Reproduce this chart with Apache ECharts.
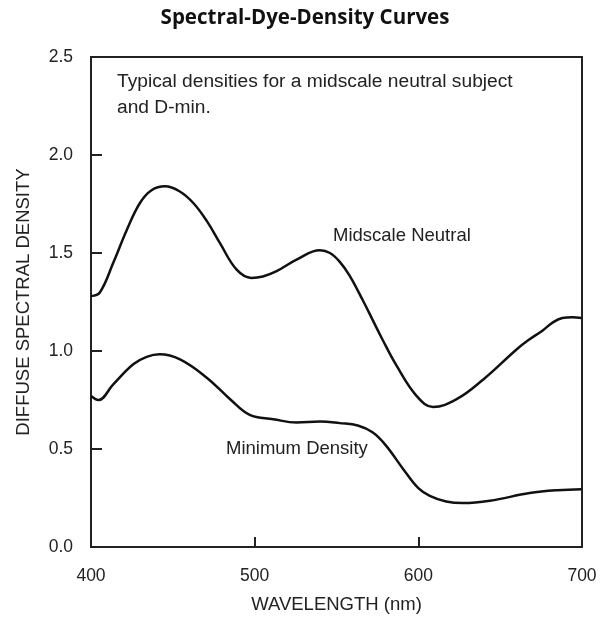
<!DOCTYPE html>
<html><head><meta charset="utf-8">
<script src="https://cdn.jsdelivr.net/npm/echarts@6/dist/echarts.min.js"></script>
<style>html,body{margin:0;padding:0;background:#fff}#c{width:610px;height:619px}</style>
</head><body><div id="c"></div>
<script>
var midWave = [400,405.5,413.6,422,429.9,437,445.2,454,462.5,471,478.8,489,498,505,513.4,525.6,539.9,546,552,558,566,572,578,586.7,599,609,623.4,639.7,660,668,676,682,688,694,699.8];
var midDens = [1.28,1.30,1.45,1.62,1.755,1.82,1.84,1.815,1.755,1.66,1.55,1.415,1.373,1.38,1.407,1.466,1.514,1.50,1.455,1.385,1.26,1.16,1.06,0.925,0.77,0.714,0.754,0.855,1.008,1.06,1.105,1.145,1.168,1.172,1.168];
var minWave = [400,404.5,413.6,425.8,434,442,454.4,470.7,485,497,511.4,525.6,540,552,563,572,580,590.8,600,607,617,627.4,643.7,668,685,699.8];
var minDens = [0.77,0.75,0.83,0.932,0.97,0.983,0.957,0.864,0.754,0.674,0.652,0.635,0.64,0.632,0.62,0.585,0.52,0.397,0.30,0.261,0.232,0.224,0.236,0.275,0.29,0.295];
var xTicks = [400,500,600,700];
var yTicks = [0,0.5,1,1.5,2,2.5];

function pairs(a,b){return a.map(function(v,i){return [v,b[i]];});}
var chart = echarts.init(document.getElementById('c'));
var txt = '#222';
var font = '"Liberation Sans", Arial, sans-serif';
chart.setOption({
  animation:false,
  title:{text:'Spectral-Dye-Density Curves',left:'center',top:3,
    textStyle:{fontFamily:'"Open Sans", Lato, sans-serif',fontWeight:'bold',fontSize:20.5,color:'#111'}},
  grid:{left:91,right:28,top:57,bottom:71,show:true,borderColor:'#222',borderWidth:2,backgroundColor:'transparent'},
  xAxis:{type:'value',min:400,max:700,interval:100,
    name:'WAVELENGTH (nm)',nameLocation:'middle',nameGap:48,
    nameTextStyle:{fontFamily:font,fontSize:18.5,color:txt},
    axisLine:{show:true,lineStyle:{color:'#222',width:2}},
    axisTick:{show:true,inside:true,length:10,lineStyle:{color:'#222',width:2}},
    axisLabel:{fontFamily:font,fontSize:17.5,color:txt,margin:20,formatter:function(v){return xTicks.indexOf(v)>=0?String(v):'';}},
    splitLine:{show:false}},
  yAxis:{type:'value',min:0,max:2.5,interval:0.5,
    name:'DIFFUSE SPECTRAL DENSITY',nameLocation:'middle',nameGap:58,
    nameTextStyle:{fontFamily:font,fontSize:18.5,color:txt},
    axisLine:{show:true,lineStyle:{color:'#222',width:2}},
    axisTick:{show:true,inside:true,length:11,lineStyle:{color:'#222',width:2}},
    axisLabel:{fontFamily:font,fontSize:17.5,color:txt,margin:18,formatter:function(v){return yTicks.indexOf(v)>=0?v.toFixed(1):'';}},
    splitLine:{show:false}},
  series:[
    {type:'line',data:pairs(midWave,midDens),smooth:0.4,showSymbol:false,lineStyle:{color:'#111',width:2.5}},
    {type:'line',data:pairs(minWave,minDens),smooth:0.4,showSymbol:false,lineStyle:{color:'#111',width:2.5}}
  ],
  graphic:[
    {type:'text',left:117,top:69,style:{text:'Typical densities for a midscale neutral subject\nand D-min.',fontFamily:font,fontSize:19.2,lineHeight:26,fill:txt}},
    {type:'text',left:333,top:226,style:{text:'Midscale Neutral',fontFamily:font,fontSize:18.5,fill:txt}},
    {type:'text',left:226,top:439,style:{text:'Minimum Density',fontFamily:font,fontSize:18.5,fill:txt}}
  ]
});
</script></body></html>
